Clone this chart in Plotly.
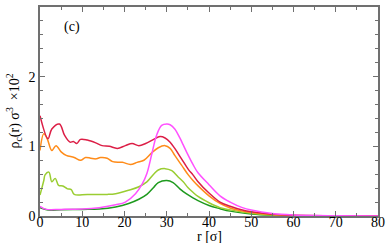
import plotly.graph_objects as go

r_red = [0, 1.9, 2.8, 4.6, 5.8, 7.1, 7.9, 8.7, 9.6, 11.2, 13.2, 14.7, 16.4, 18.3, 20.2, 21.8, 23.4, 25.0, 26.9, 28.4, 29.6, 30.8, 31.9, 33.5, 35.1, 36.2, 37.3, 40, 42.6, 45, 47.9, 50, 55, 60, 70, 80]
v_red = [1.44, 1.11, 1.25, 1.32, 1.16, 1.06, 1.07, 1.04, 1.10, 1.09, 1.05, 1.01, 1.0, 0.97, 1.01, 1.04, 1.01, 1.04, 1.10, 1.14, 1.12, 1.06, 0.97, 0.82, 0.67, 0.59, 0.50, 0.33, 0.20, 0.14, 0.085, 0.06, 0.025, 0.01, 0.003, 0.0]

r_orange = [0, 0.9, 1.7, 2.8, 3.8, 5.0, 6.2, 8.1, 9.6, 10.8, 12.0, 13.2, 14.3, 15.9, 17.2, 19.5, 21.4, 23.0, 24.6, 26.5, 28.0, 29.6, 30.8, 31.9, 33.5, 35.1, 36.2, 37.3, 40, 42.6, 45, 47.9, 50, 55, 60, 70, 80]
v_orange = [0.94, 1.18, 1.11, 0.94, 1.01, 0.92, 0.87, 0.84, 0.80, 0.84, 0.83, 0.82, 0.84, 0.83, 0.78, 0.77, 0.74, 0.77, 0.80, 0.91, 0.98, 1.01, 0.97, 0.87, 0.73, 0.59, 0.51, 0.44, 0.29, 0.18, 0.115, 0.07, 0.05, 0.02, 0.008, 0.002, 0.0]

r_lgreen = [0, 0.9, 1.2, 2.1, 2.8, 3.6, 4.4, 5.4, 6.5, 7.4, 8.1, 11.2, 15.9, 17.9, 21.0, 23.4, 25.3, 26.9, 28.0, 29.6, 31.2, 32.7, 33.9, 35.0, 36.2, 37.4, 40, 42.6, 45, 50, 55, 60, 70, 80]
v_lgreen = [0.30, 0.51, 0.59, 0.63, 0.49, 0.54, 0.44, 0.43, 0.39, 0.38, 0.31, 0.31, 0.31, 0.32, 0.37, 0.42, 0.49, 0.60, 0.66, 0.68, 0.65, 0.56, 0.49, 0.41, 0.34, 0.28, 0.19, 0.12, 0.088, 0.04, 0.015, 0.006, 0.002, 0.0]

r_green = [0, 1.9, 5, 10, 14.0, 17.9, 21.0, 23.4, 25.3, 26.9, 28.0, 30.0, 31.5, 33.1, 34.6, 36.2, 37.4, 40, 42.6, 45, 50, 55, 60, 70, 80]
v_green = [0.12, 0.086, 0.09, 0.095, 0.10, 0.13, 0.18, 0.24, 0.31, 0.41, 0.48, 0.51, 0.48, 0.39, 0.32, 0.26, 0.22, 0.15, 0.105, 0.07, 0.03, 0.012, 0.005, 0.001, 0.0]

r_magenta = [0, 1.5, 5, 10, 14.0, 17.9, 20.2, 22.6, 24.2, 25.3, 26.5, 27.6, 28.8, 30.0, 30.8, 31.9, 33.1, 33.9, 35.0, 36.2, 37.4, 40, 42.6, 45, 47.9, 50, 55, 60, 70, 80]
v_magenta = [0.14, 0.095, 0.095, 0.10, 0.12, 0.16, 0.20, 0.32, 0.46, 0.61, 0.90, 1.16, 1.30, 1.32, 1.31, 1.25, 1.12, 1.02, 0.88, 0.74, 0.62, 0.45, 0.29, 0.20, 0.12, 0.085, 0.035, 0.015, 0.004, 0.0]

series = [
    (r_green, v_green, "#1e9a1e"),
    (r_lgreen, v_lgreen, "#9acd32"),
    (r_orange, v_orange, "#ff8c1a"),
    (r_red, v_red, "#dc1e46"),
    (r_magenta, v_magenta, "#ff50ff"),
]

fig = go.Figure()
for rx, vy, col in series:
    fig.add_trace(go.Scatter(x=rx, y=vy, mode="lines", line=dict(color=col, width=1.5), line_shape="spline", showlegend=False))
# empty helper trace so the tick-label axis is drawn
fig.add_trace(go.Scatter(x=[], y=[], xaxis="x2", yaxis="y", showlegend=False, hoverinfo="skip"))

font = dict(family="Times New Roman, Liberation Serif, serif", size=14, color="black")
axis_common = dict(showgrid=False, zeroline=False, showline=True, linecolor="#707070", linewidth=1.5,
                   mirror="ticks", ticks="inside", tickcolor="#707070", ticklen=5, tickwidth=1,
                   tickfont=font)
fig.update_layout(
    width=390, height=243,
    margin=dict(l=40, r=8, t=5, b=27),
    plot_bgcolor="white", paper_bgcolor="white",
    font=font,
    xaxis=dict(range=[0, 80], dtick=10, minor=dict(dtick=5, ticks="inside", ticklen=3, tickcolor="#707070"),
               showticklabels=False, **axis_common),
    xaxis2=dict(range=[0, 80], dtick=10, overlaying="x", anchor="free", position=0.02, side="bottom",
                showline=False, showgrid=False, zeroline=False, ticks="", tickfont=font),
    yaxis=dict(range=[0, 3], dtick=1, minor=dict(dtick=0.2, ticks="inside", ticklen=3, tickcolor="#707070"),
               **axis_common),
    annotations=[
        dict(x=7.5, y=2.71, xref="x", yref="y", text="(c)", showarrow=False, font=font),
        dict(x=0.5, y=0, xref="paper", yref="paper", yshift=-20, text="r [σ]", showarrow=False,
             font=font, yanchor="middle"),
        dict(x=0, y=0.5, xref="paper", yref="paper", xshift=-26, text="ρ<sub>c</sub>(r) σ<sup>3</sup>  ×10<sup>2</sup>",
             showarrow=False, font=font, textangle=-90, xanchor="center"),
    ],
)
fig.write_html("out.html", config={"displayModeBar": False}, post_script="document.body.style.margin='0';")
